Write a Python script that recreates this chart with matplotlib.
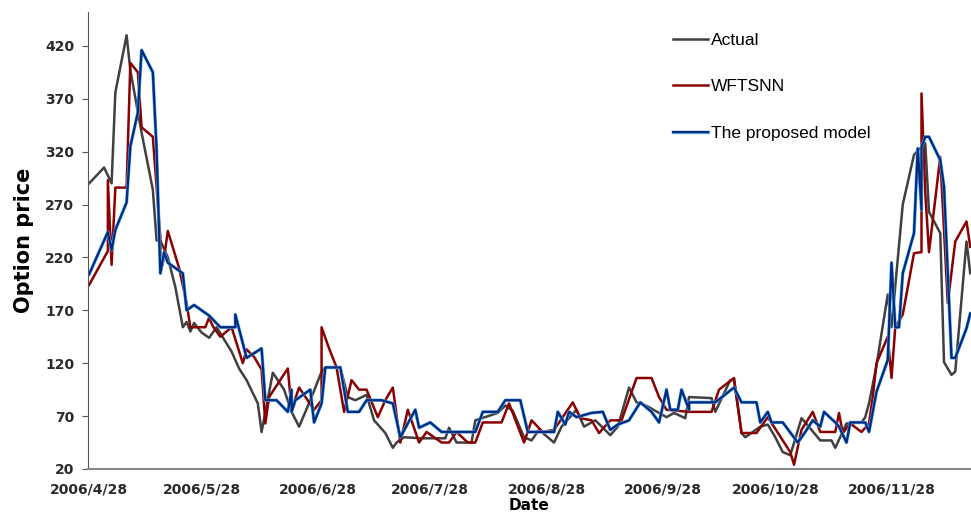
import matplotlib
matplotlib.use("Agg")
import matplotlib.pyplot as plt
import matplotlib.patheffects as pe
import numpy as np

# days counted from 2006/4/28
act_day = [0, 4, 6, 7, 10, 11, 14, 17, 18, 19, 21, 23, 25, 26, 27, 28, 30, 32, 34, 38,
           40, 42, 45, 46, 49, 52, 54, 56, 59, 62, 63, 67, 69, 71, 74, 76, 79, 81, 82, 84,
           89, 95, 96, 98, 102, 103, 109, 111, 113, 116, 118, 120, 124, 126, 130, 132, 135,
           139, 141, 144, 146, 147, 149, 154, 156, 159, 160, 166, 167, 171, 172, 174, 175,
           179, 181, 183, 185, 187, 190, 191, 195, 198, 199, 202, 206, 207, 208, 210, 213,
           214, 217, 220, 223, 224, 227, 228, 230, 231, 234, 235]
act_val = [290, 305, 290, 376, 430, 397, 338, 284, 236, 236, 220, 192, 154, 159, 150, 158,
           149, 144, 154, 131, 115, 104, 82, 55, 111, 95, 74, 60, 85, 112, 116, 116, 88, 85,
           90, 66, 54, 40, 45, 50, 49, 49, 59, 45, 45, 66, 73, 80, 75, 50, 47, 57, 45, 60, 76,
           60, 66, 52, 60, 97, 83, 82, 79, 69, 73, 68, 88, 87, 74, 104, 104, 54, 50, 60, 62,
           50, 36, 33, 68, 64, 47, 47, 40, 63, 64, 69, 82, 118, 185, 154, 270, 317, 328, 263,
           243, 121, 109, 112, 235, 205]

wft_day = [0, 5, 5, 6, 7, 10, 11, 13, 14, 17, 19, 19, 20, 21, 24, 26, 27, 31, 32, 33, 35,
           37, 38, 41, 42, 44, 46, 47, 48, 53, 54, 56, 60, 62, 62, 64, 66, 68, 70, 72, 74,
           77, 79, 81, 83, 85, 88, 90, 94, 96, 98, 101, 103, 105, 110, 112, 116, 118, 121,
           124, 129, 131, 134, 136, 139, 142, 146, 150, 152, 154, 160, 166, 168, 172, 174,
           178, 181, 187, 188, 190, 193, 195, 199, 200, 201, 203, 206, 208, 209, 210, 213,
           214, 215, 217, 220, 222, 222, 223, 224, 227, 229, 231, 234, 235]
wft_val = [194, 226, 293, 213, 286, 286, 404, 395, 343, 334, 239, 205, 220, 245, 210, 177,
           154, 154, 163, 155, 145, 151, 154, 120, 133, 126, 114, 63, 88, 115, 76, 97, 76, 85,
           154, 134, 116, 74, 104, 95, 95, 69, 85, 97, 45, 76, 45, 55, 45, 45, 55, 45, 45, 64,
           64, 82, 45, 66, 55, 57, 83, 68, 66, 54, 66, 66, 106, 106, 88, 76, 74, 74, 95, 106,
           54, 54, 69, 36, 24, 57, 74, 55, 55, 73, 54, 63, 55, 63, 88, 120, 145, 106, 154,
           166, 224, 225, 375, 281, 225, 315, 177, 235, 254, 230]

prop_day = [0, 5, 6, 7, 10, 11, 13, 14, 17, 18, 19, 20, 21, 25, 26, 28, 32, 35, 39, 39, 42,
            46, 47, 50, 53, 54, 54, 55, 59, 60, 62, 63, 67, 69, 72, 74, 78, 81, 83, 87, 88,
            91, 94, 103, 105, 109, 111, 115, 117, 124, 125, 127, 128, 130, 134, 137, 139,
            141, 144, 147, 150, 152, 154, 155, 157, 158, 160, 160, 167, 172, 174, 178, 179,
            181, 182, 185, 189, 191, 193, 195, 196, 199, 200, 202, 203, 207, 208, 210, 213,
            214, 215, 216, 217, 220, 221, 222, 222, 223, 224, 227, 228, 230, 231, 234, 235]
prop_val = [204, 244, 227, 246, 272, 325, 357, 416, 395, 322, 205, 225, 215, 205, 170, 175,
            165, 154, 154, 166, 125, 134, 85, 85, 74, 95, 74, 85, 95, 64, 82, 116, 116, 74, 74,
            85, 85, 82, 50, 76, 59, 64, 55, 55, 74, 74, 85, 85, 55, 55, 74, 62, 74, 69, 73, 74,
            57, 62, 66, 83, 74, 64, 95, 76, 76, 95, 76, 83, 83, 97, 83, 83, 64, 74, 64, 64, 45,
            55, 66, 60, 74, 64, 60, 45, 64, 64, 55, 93, 123, 215, 154, 154, 205, 243, 323, 265,
            324, 334, 334, 312, 287, 125, 125, 153, 167]

tick_days = [0, 30, 61, 91, 122, 153, 183, 214]
tick_labels = ["2006/4/28", "2006/5/28", "2006/6/28", "2006/7/28",
               "2006/8/28", "2006/9/28", "2006/10/28", "2006/11/28"]
y_ticks = [20, 70, 120, 170, 220, 270, 320, 370, 420]

fig = plt.figure(figsize=(9.71, 5.13), dpi=100)
ax = fig.add_axes([0.0906, 0.0858, 0.9094, 0.8908])

ax.plot(act_day, act_val, color="#404040", linewidth=1.8, label="Actual")
ax.plot(wft_day, wft_val, color="#8B0000", linewidth=1.8, label="WFTSNN")
ax.plot(prop_day, prop_val, color="#002A7A", linewidth=1.6, label="The proposed model",
        path_effects=[pe.Stroke(linewidth=2.4, foreground="#5AB0FF"), pe.Normal()])

ax.set_xlim(-0.3, 235.2)
ax.set_ylim(20, 452)
ax.set_yticks(y_ticks)
ax.set_xticks(tick_days)
ax.set_xticklabels(tick_labels)

for s in ["top", "right"]:
    ax.spines[s].set_visible(False)
ax.spines["left"].set_color("#555555")
ax.spines["bottom"].set_color("#888888")
ax.spines["bottom"].set_linewidth(1.5)
ax.tick_params(axis="y", length=4, color="#555555", labelsize=10, pad=6)
ax.tick_params(axis="x", length=0, labelsize=10, pad=10)
for t in ax.get_xticklabels() + ax.get_yticklabels():
    t.set_fontweight("bold")
    t.set_color("#2a2a2a")

ax.set_ylabel("Option price", fontsize=15, fontweight="bold", labelpad=8)
ax.set_xlabel("Date", fontsize=11, fontweight="bold", labelpad=1)

ax.legend(loc="upper left", bbox_to_anchor=(0.663, 0.955), frameon=False,
          labelspacing=1.82, handlelength=2.0, handletextpad=0.15,
          borderpad=0, borderaxespad=0,
          prop={"family": "Liberation Sans", "size": 12.5})

fig.savefig("out.png", dpi=100)
